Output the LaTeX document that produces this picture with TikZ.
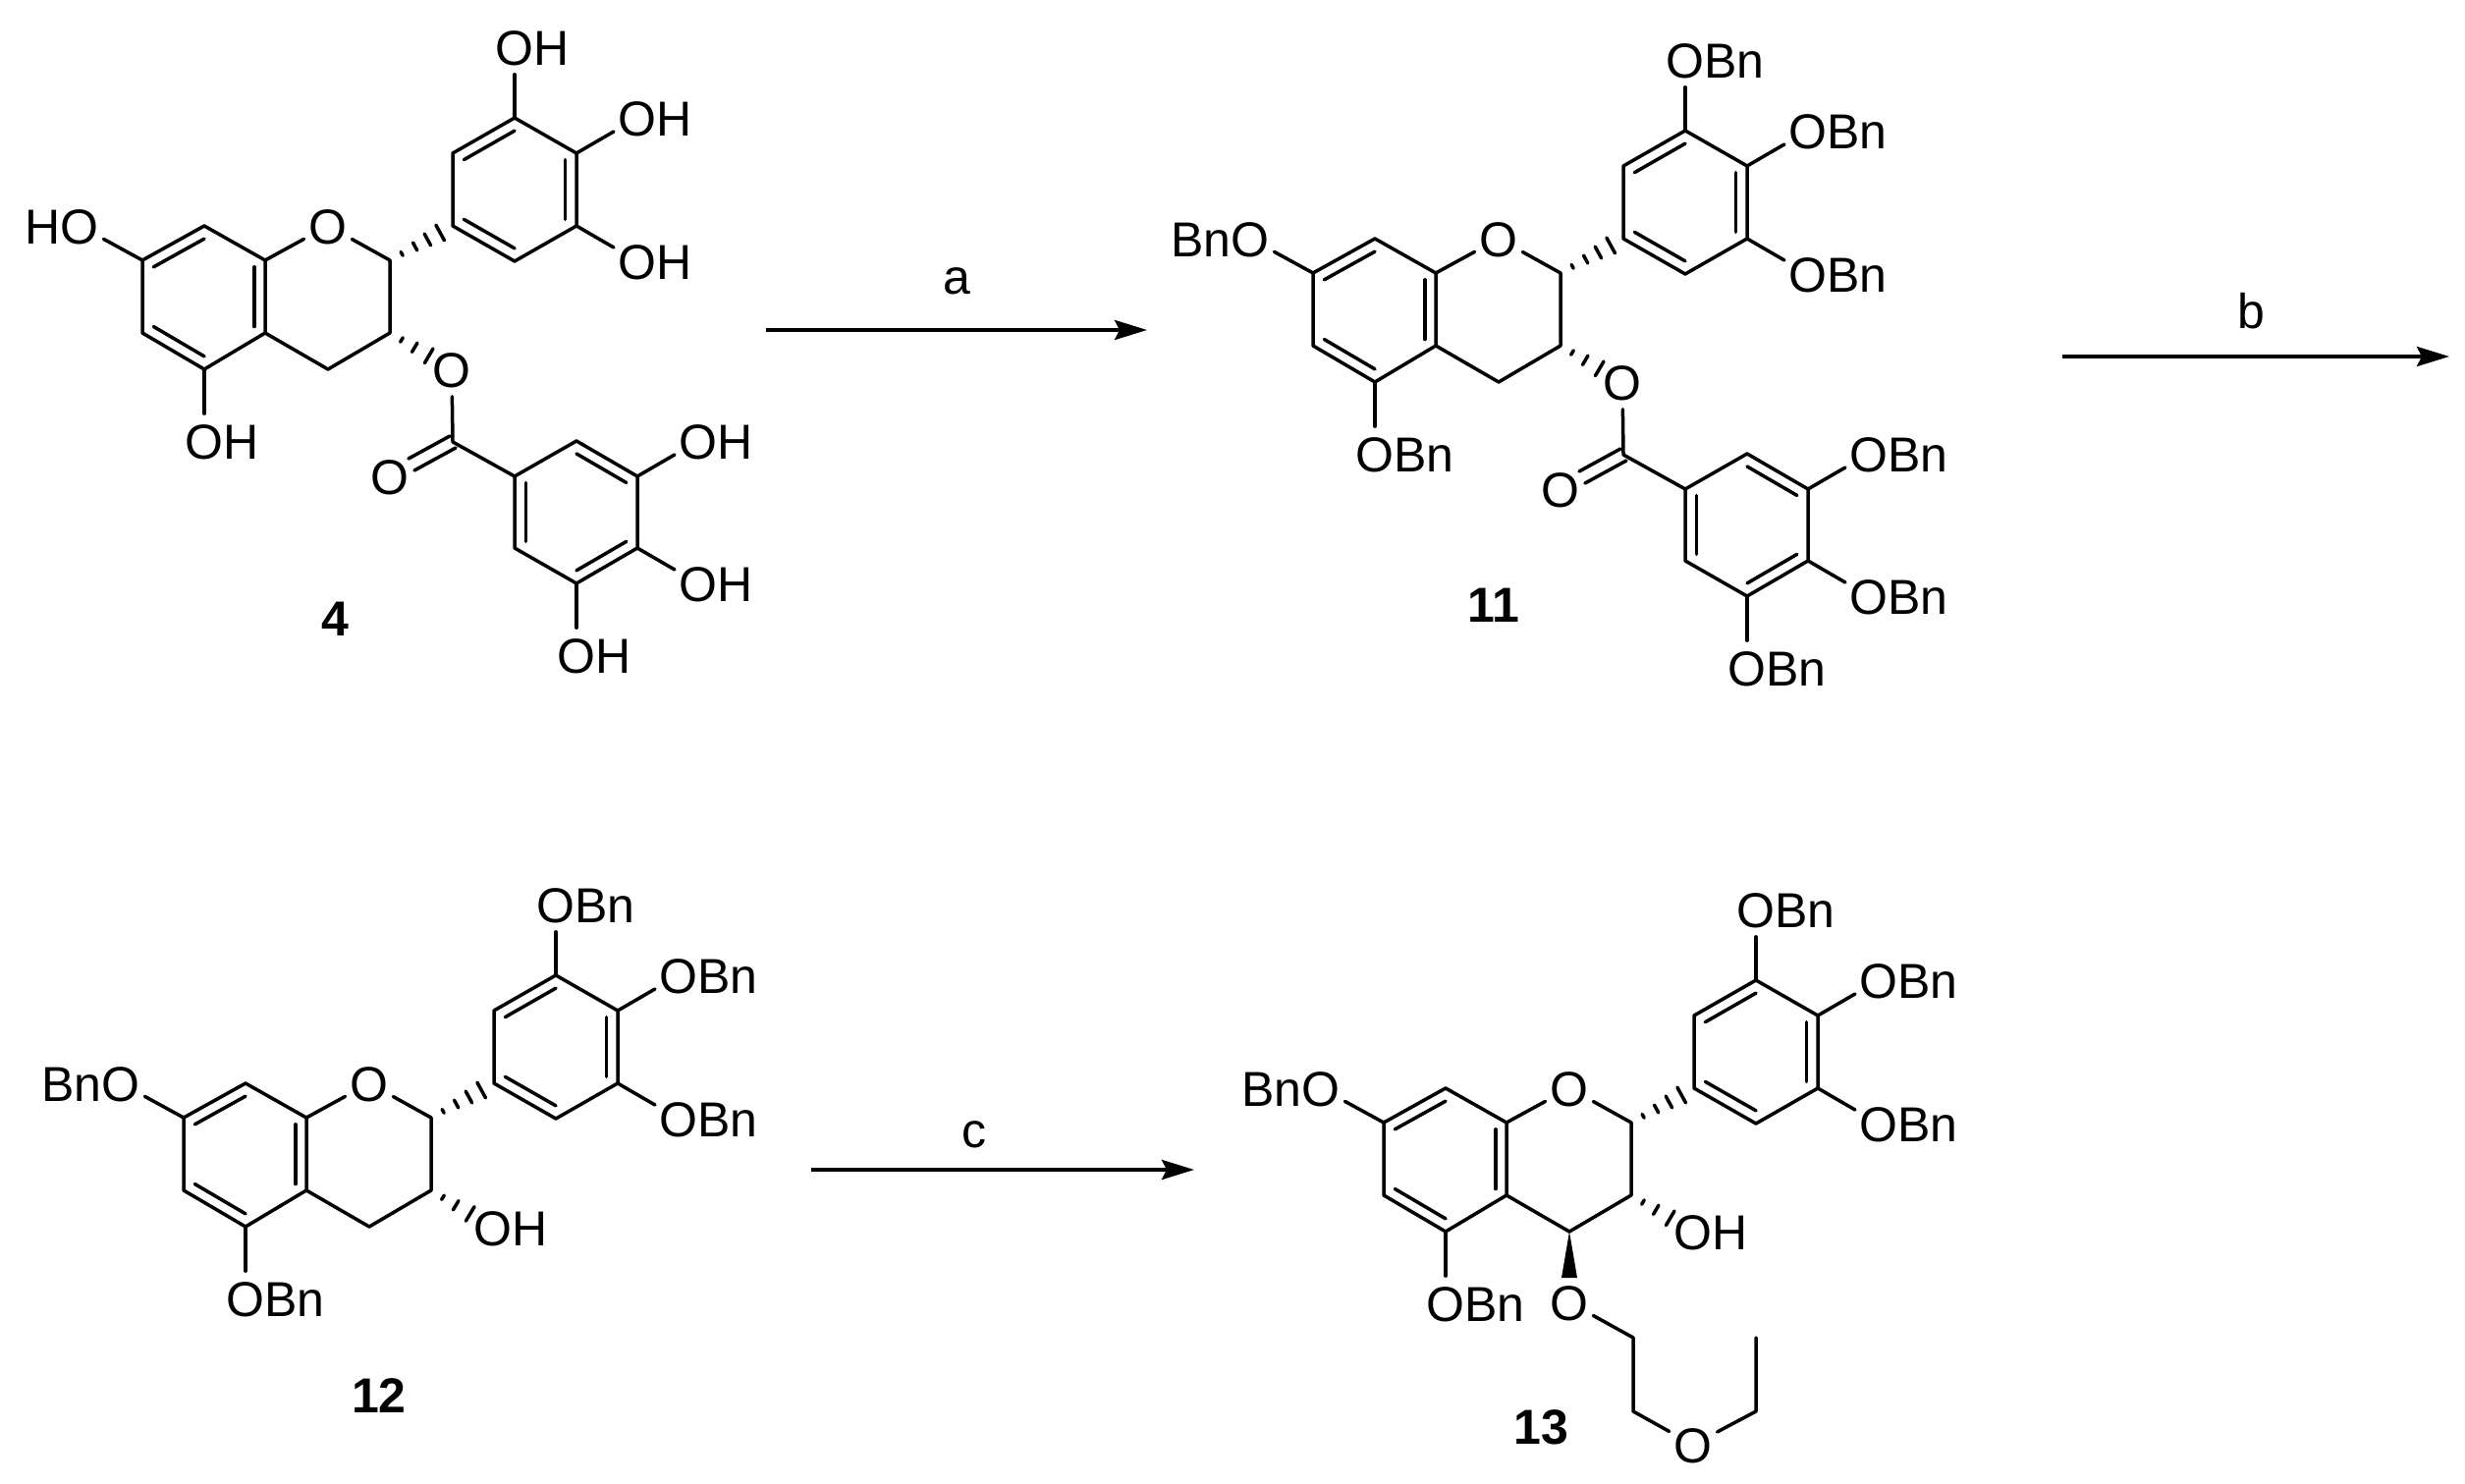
\documentclass[tikz,border=0pt]{standalone}
\usepackage{fontspec}
\setmainfont{Liberation Sans}
\usetikzlibrary{calc,arrows.meta}
\tikzset{
  bond/.style={line width=1.4pt,line cap=round,line join=round},
  hash/.style={line width=1.4pt,line cap=round},
  atom/.style={circle,inner sep=0pt,minimum size=20pt,text height=15.3pt,text depth=0.2pt,font=\fontsize{20}{20}\selectfont},
  cmpd/.style={inner sep=0pt,font=\fontsize{20}{20}\selectfont\bfseries},
  reag/.style={inner sep=0pt,font=\fontsize{20}{20}\selectfont},
  rxn/.style={line width=1.6pt,-{Stealth[length=13.2pt,width=8pt,inset=2pt]}}
}
\newcommand{\hashbond}[4]{\foreach \hpos in {#3}{\pgfmathsetmacro{\hw}{#4*\hpos}
  \draw[hash] ($(#1)!\hpos!(#2)!\hw pt!90:(#2)$) -- ($(#1)!\hpos!(#2)!\hw pt!-90:(#2)$);}}
\newcommand{\dbl}[3]{\draw[bond] ($(#1)!.18!(#3)$) -- ($(#2)!.18!(#3)$);}
% flavan skeleton: #1 prefix, #2 #3 shift, #4 right suffix, #5 left prefix
\newcommand{\flavan}[5]{
\begin{scope}[shift={(#2,#3)}]
  \coordinate (#1c8a) at (270,265); \coordinate (#1c8) at (208,230);
  \coordinate (#1c7) at (145,265);  \coordinate (#1c6) at (145,339);
  \coordinate (#1c5) at (208,376);  \coordinate (#1c4a) at (270,339);
  \coordinate (#1c2) at (397,265);  \coordinate (#1c3) at (397,339);
  \coordinate (#1c4) at (334,376);  \coordinate (#1ca) at (208,303);
  \coordinate (#1b1) at (461,230);  \coordinate (#1b2) at (461,156);
  \coordinate (#1b3) at (524,120);  \coordinate (#1b4) at (587,156);
  \coordinate (#1b5) at (587,230);  \coordinate (#1b6) at (524,266);
  \coordinate (#1bc) at (524,193);
  \node[atom] (#1o1) at (334,230) {O};
  \node[atom] (#1o7) at (81,230) {\llap{#5}O};
  \node[atom] (#1o5) at (208,449) {O\rlap{#4}};
  \node[atom] (#1ob3) at (524,48) {O\rlap{#4}};
  \node[atom] (#1ob4) at (649,120) {O\rlap{#4}};
  \node[atom] (#1ob5) at (649,266) {O\rlap{#4}};
\end{scope}
\draw[bond] (#1c8a)--(#1c8)--(#1c7)--(#1c6)--(#1c5)--(#1c4a)--cycle;
\draw[bond] (#1c8a)--(#1o1)--(#1c2)--(#1c3)--(#1c4)--(#1c4a);
\draw[bond] (#1b1)--(#1b2)--(#1b3)--(#1b4)--(#1b5)--(#1b6)--cycle;
\dbl{#1c7}{#1c8}{#1ca}\dbl{#1c8a}{#1c4a}{#1ca}\dbl{#1c5}{#1c6}{#1ca}
\dbl{#1b2}{#1b3}{#1bc}\dbl{#1b4}{#1b5}{#1bc}\dbl{#1b6}{#1b1}{#1bc}
\draw[bond] (#1c7)--(#1o7);
\draw[bond] (#1c5)--(#1o5);
\draw[bond] (#1b3)--(#1ob3);
\draw[bond] (#1b4)--(#1ob4);
\draw[bond] (#1b5)--(#1ob5);
\hashbond{#1c2}{#1b1}{.19,.4,.6,.8}{4.5}
}
% galloyl ester
\newcommand{\galloyl}[4]{
\begin{scope}[shift={(#2,#3)}]
  \node[atom] (#1oe) at (460,376) {O};
  \coordinate (#1cc) at (461,450);
  \node[atom] (#1oc) at (397,485) {O};
  \coordinate (#1d1) at (524,485); \coordinate (#1d2) at (587,449);
  \coordinate (#1d3) at (649,485); \coordinate (#1d4) at (649,558);
  \coordinate (#1d5) at (587,594); \coordinate (#1d6) at (524,558);
  \coordinate (#1dc) at (587,521);
  \node[atom] (#1od3) at (711,449) {O\rlap{#4}};
  \node[atom] (#1od4) at (711,594) {O\rlap{#4}};
  \node[atom] (#1od5) at (587,667) {O\rlap{#4}};
\end{scope}
\hashbond{#1c3}{#1oe}{.19,.4,.63}{5.4}
\draw[bond] (#1oe)--(#1cc)--(#1d1);
\draw[bond,shorten >=10pt] ($(#1cc)+(-3,-6)$)--($(#1oc)+(-3,-6)$);
\draw[bond,shorten >=10pt] ($(#1cc)+(3,6)$)--($(#1oc)+(3,6)$);
\draw[bond] (#1d1)--(#1d2)--(#1d3)--(#1d4)--(#1d5)--(#1d6)--cycle;
\dbl{#1d2}{#1d3}{#1dc}\dbl{#1d4}{#1d5}{#1dc}\dbl{#1d6}{#1d1}{#1dc}
\draw[bond] (#1d3)--(#1od3);
\draw[bond] (#1d4)--(#1od4);
\draw[bond] (#1d5)--(#1od5);
}
\begin{document}
\begin{tikzpicture}[x=0.4pt,y=-0.4pt]
\useasboundingbox (0,0) rectangle (2510,1511);
\fill[white] (0,0) rectangle (2510,1511);
% compound 4
\flavan{p}{0}{0}{H}{H}
\galloyl{p}{0}{0}{H}
\node[cmpd] (l4) at (341,630) {4};
% compound 11
\flavan{q}{1192}{13}{Bn}{Bn}
\galloyl{q}{1192}{13}{Bn}
\node[cmpd] (l11) at (1521,616) {11};
% compound 12
\flavan{r}{42}{873}{Bn}{Bn}
\node[atom] (roh) at (502,1250) {O\rlap{H}};
\hashbond{rc3}{roh}{.19,.4,.63}{5.4}
\node[cmpd] (l12) at (386,1421) {12};
% compound 13
\flavan{s}{1264}{878}{Bn}{Bn}
\node[atom] (soh) at (1724,1254) {O\rlap{H}};
\hashbond{sc3}{soh}{.19,.4,.63}{5.4}
\node[atom] (so4) at (1598,1326) {O};
\coordinate (sw1) at (1590,1301);
\coordinate (sw2) at (1606,1301);
\fill (sc4)--(sw1)--(sw2)--cycle;
\coordinate (se1) at (1663,1362);
\coordinate (se2) at (1663,1437);
\node[atom] (so2) at (1724,1471) {O};
\coordinate (se3) at (1788,1437);
\coordinate (se4) at (1788,1362);
\draw[bond] (so4)--(se1)--(se2)--(so2)--(se3)--(se4);
\node[cmpd] (l13) at (1569,1453) {13};
% arrows
\coordinate (a1) at (780,336); \coordinate (a2) at (1168,336);
\coordinate (b1) at (2100,363); \coordinate (b2) at (2494,363);
\coordinate (c1) at (826,1191); \coordinate (c2) at (1216,1191);
\draw[rxn] (a1)--(a2);
\draw[rxn] (b1)--(b2);
\draw[rxn] (c1)--(c2);
\node[reag] (la) at (974,286) {a};
\node[reag] (lb) at (2292,317) {b};
\node[reag] (lc) at (992,1155) {c};
\end{tikzpicture}
\end{document}
